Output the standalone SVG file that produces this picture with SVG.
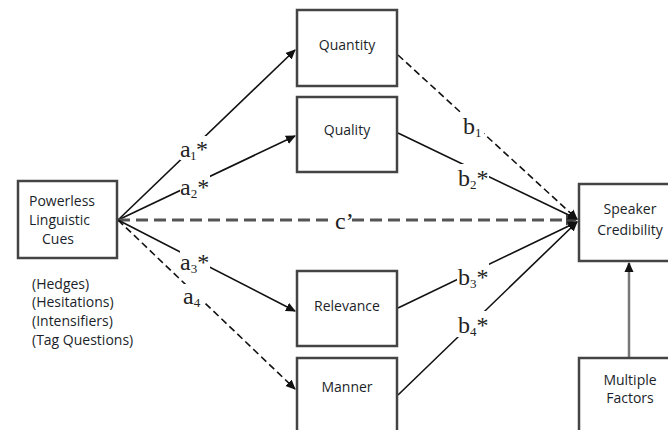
<svg xmlns="http://www.w3.org/2000/svg" width="668" height="430" viewBox="0 0 668 430">
<style>
.box{fill:#fff;stroke:#444;stroke-width:2.5}
.t{font-family:"Open Sans","Liberation Sans",sans-serif;font-size:14px;fill:#1b1f2a}
.c{text-anchor:middle}
.lbl{font-family:"Liberation Serif",serif;font-size:24px;fill:#222}
.sub{font-size:13px}
.ln{stroke:#111;stroke-width:1.6;fill:none}
.dash{stroke-dasharray:7 4}
.bg{fill:#fff}
</style>
<defs>
<marker id="ah" markerWidth="10" markerHeight="10" refX="9" refY="5" orient="auto" markerUnits="userSpaceOnUse">
<path d="M0,0.5 L10,5 L0,9.5 Z" fill="#111"/>
</marker>
<marker id="ahg" markerWidth="12" markerHeight="12" refX="10" refY="6" orient="auto" markerUnits="userSpaceOnUse">
<path d="M0,0.5 L11,6 L0,11.5 Z" fill="#444"/>
</marker>
</defs>
<rect width="668" height="430" fill="#fff"/>
<g id="connectors">
<line class="ln" x1="118" y1="220" x2="295" y2="50" marker-end="url(#ah)"/>
<line class="ln" x1="118" y1="220" x2="295" y2="136" marker-end="url(#ah)"/>
<line x1="118" y1="220" x2="576" y2="220" stroke="#555" stroke-width="3" stroke-dasharray="12 6" marker-end="url(#ahg)"/>
<line class="ln" x1="118" y1="220" x2="295" y2="311" marker-end="url(#ah)"/>
<line class="ln dash" x1="118" y1="220" x2="295" y2="389" marker-end="url(#ah)"/>
<line class="ln dash" x1="398" y1="55" x2="577" y2="219" marker-end="url(#ah)"/>
<line class="ln" x1="398" y1="133" x2="577" y2="219" marker-end="url(#ah)"/>
<line class="ln" x1="398" y1="308" x2="577" y2="222" marker-end="url(#ah)"/>
<line class="ln" x1="398" y1="395" x2="577" y2="222" marker-end="url(#ah)"/>
<line x1="629" y1="357" x2="629" y2="263" stroke="#777" stroke-width="2.5" marker-end="url(#ah)"/>
<rect class="bg" x="180" y="136" width="30" height="24"/>
<text class="lbl" x="180" y="157" textLength="28">a<tspan class="sub" dy="3">1</tspan><tspan dy="-3">*</tspan></text>
<rect class="bg" x="180" y="174" width="30" height="24"/>
<text class="lbl" x="180" y="195">a<tspan class="sub" dy="3">2</tspan><tspan dy="-3">*</tspan></text>
<rect class="bg" x="333" y="208" width="18" height="24"/>
<text class="lbl" x="335" y="229">c’</text>
<rect class="bg" x="180" y="250" width="30" height="24"/>
<text class="lbl" x="180" y="270">a<tspan class="sub" dy="3">3</tspan><tspan dy="-3">*</tspan></text>
<rect class="bg" x="182" y="284" width="22" height="24"/>
<text class="lbl" x="183" y="304">a<tspan class="sub" dy="3">4</tspan></text>
<rect class="bg" x="462" y="112" width="22" height="26"/>
<text class="lbl" x="463" y="134">b<tspan class="sub" dy="3">1</tspan></text>
<rect class="bg" x="457" y="164" width="32" height="26"/>
<text class="lbl" x="458" y="186">b<tspan class="sub" dy="3">2</tspan><tspan dy="-3">*</tspan></text>
<rect class="bg" x="457" y="263" width="32" height="26"/>
<text class="lbl" x="458" y="285">b<tspan class="sub" dy="3">3</tspan><tspan dy="-3">*</tspan></text>
<rect class="bg" x="457" y="311" width="32" height="26"/>
<text class="lbl" x="458" y="333">b<tspan class="sub" dy="3">4</tspan><tspan dy="-3">*</tspan></text>
</g>
<g id="powerless">
<rect class="box" x="18" y="181" width="99" height="77"/>
<text class="t" x="29" y="206">Powerless</text>
<text class="t" x="29" y="225">Linguistic</text>
<text class="t" x="42" y="244">Cues</text>
<text class="t" x="32" y="289">(Hedges)</text>
<text class="t" x="32" y="307">(Hesitations)</text>
<text class="t" x="32" y="326">(Intensifiers)</text>
<text class="t" x="32" y="345">(Tag Questions)</text>
</g>
<g id="quantity">
<rect class="box" x="297" y="10" width="100" height="76"/>
<text class="t c" x="347" y="50">Quantity</text>
</g>
<g id="quality">
<rect class="box" x="297" y="97" width="100" height="75"/>
<text class="t c" x="347" y="135">Quality</text>
</g>
<g id="relevance">
<rect class="box" x="297" y="271" width="100" height="75"/>
<text class="t c" x="347" y="311">Relevance</text>
</g>
<g id="manner">
<rect class="box" x="297" y="358" width="100" height="80"/>
<text class="t c" x="347" y="392">Manner</text>
</g>
<g id="speaker">
<rect class="box" x="579" y="184" width="100" height="77"/>
<text class="t c" x="630" y="214">Speaker</text>
<text class="t c" x="630" y="235">Credibility</text>
</g>
<g id="multiple">
<rect class="box" x="579" y="358" width="100" height="80"/>
<text class="t c" x="630" y="385">Multiple</text>
<text class="t c" x="630" y="403">Factors</text>
</g>
</svg>
